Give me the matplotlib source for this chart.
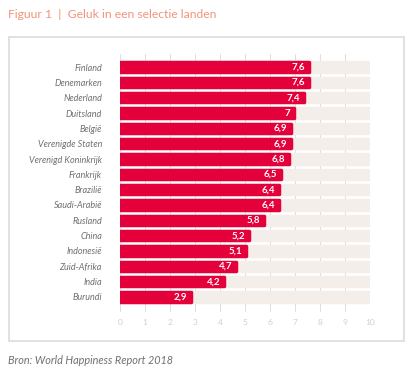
import matplotlib.pyplot as plt
from matplotlib.patches import Rectangle

# data (World Happiness Report 2018)
landen = ["Finland", "Denemarken", "Nederland", "Duitsland", "België",
          "Verenigde Staten", "Verenigd Koninkrijk", "Frankrijk", "Brazilië",
          "Saudi-Arabië", "Rusland", "China", "Indonesië", "Zuid-Afrika",
          "India", "Burundi"]
scores = [7.6, 7.6, 7.4, 7.0, 6.9, 6.9, 6.8, 6.5, 6.4, 6.4, 5.8, 5.2, 5.1,
          4.7, 4.2, 2.9]
labels = ["7,6", "7,6", "7,4", "7", "6,9", "6,9", "6,8", "6,5", "6,4",
          "6,4", "5,8", "5,2", "5,1", "4,7", "4,2", "2,9"]
ticks = list(range(0, 11))

RED = "#e4003a"
BG = "#f4eeeb"
GRID = "#e2dcd8"
TXT = "#707070"

plt.rcParams["font.family"] = ["Lato", "DejaVu Sans"]

fig = plt.figure(figsize=(4.13, 3.74), dpi=100)

# title and source
fig.text(8 / 413, 1 - 15 / 374, "Figuur 1  |  Geluk in een selectie landen",
         color="#f3937a", fontsize=8.7, va="center", ha="left")
fig.text(8 / 413, 1 - 360 / 374, "Bron: World Happiness Report 2018",
         color="#6f6f6f", fontsize=7.8, style="italic", va="center", ha="left")

# frame around the chart
fig.patches.append(Rectangle((9 / 413, 1 - 341 / 374), 395 / 413, 304 / 374,
                             transform=fig.transFigure, fill=False,
                             edgecolor="#dcdcdc", linewidth=1.2))

ax = fig.add_axes([120 / 413, 1 - 312 / 374, 250 / 413, 258 / 374])
y = list(range(len(landen)))

for t in ticks:
    ax.axvline(t, color=GRID, linewidth=0.7, zorder=0)

# background tracks
ax.barh(y, [10.25] * len(y), height=0.62, color=BG, edgecolor=BG,
        linewidth=2.5, joinstyle="round", zorder=1)
# red bars
ax.barh(y, [s - 0.05 for s in scores], height=0.62, color=RED, edgecolor=RED,
        linewidth=2.5, joinstyle="round", zorder=3)

for yi, s, lab in zip(y, scores, labels):
    ax.text(s - 0.2, yi, lab, color="white", fontsize=7, fontweight="bold",
            ha="right", va="center", zorder=4)

ax.set_xlim(0, 10)
ax.set_ylim(15.98, -0.85)
ax.set_xticks(ticks)
ax.set_xticklabels([str(t) for t in ticks], color="#cfcfcf", fontsize=6)
ax.set_yticks(y)
ax.set_yticklabels(landen, color=TXT, fontsize=6.5, style="italic")
ax.tick_params(axis="both", length=0)
ax.tick_params(axis="y", pad=13)
ax.tick_params(axis="x", pad=5)
for sp in ax.spines.values():
    sp.set_visible(False)

fig.savefig("out.png", dpi=100)
